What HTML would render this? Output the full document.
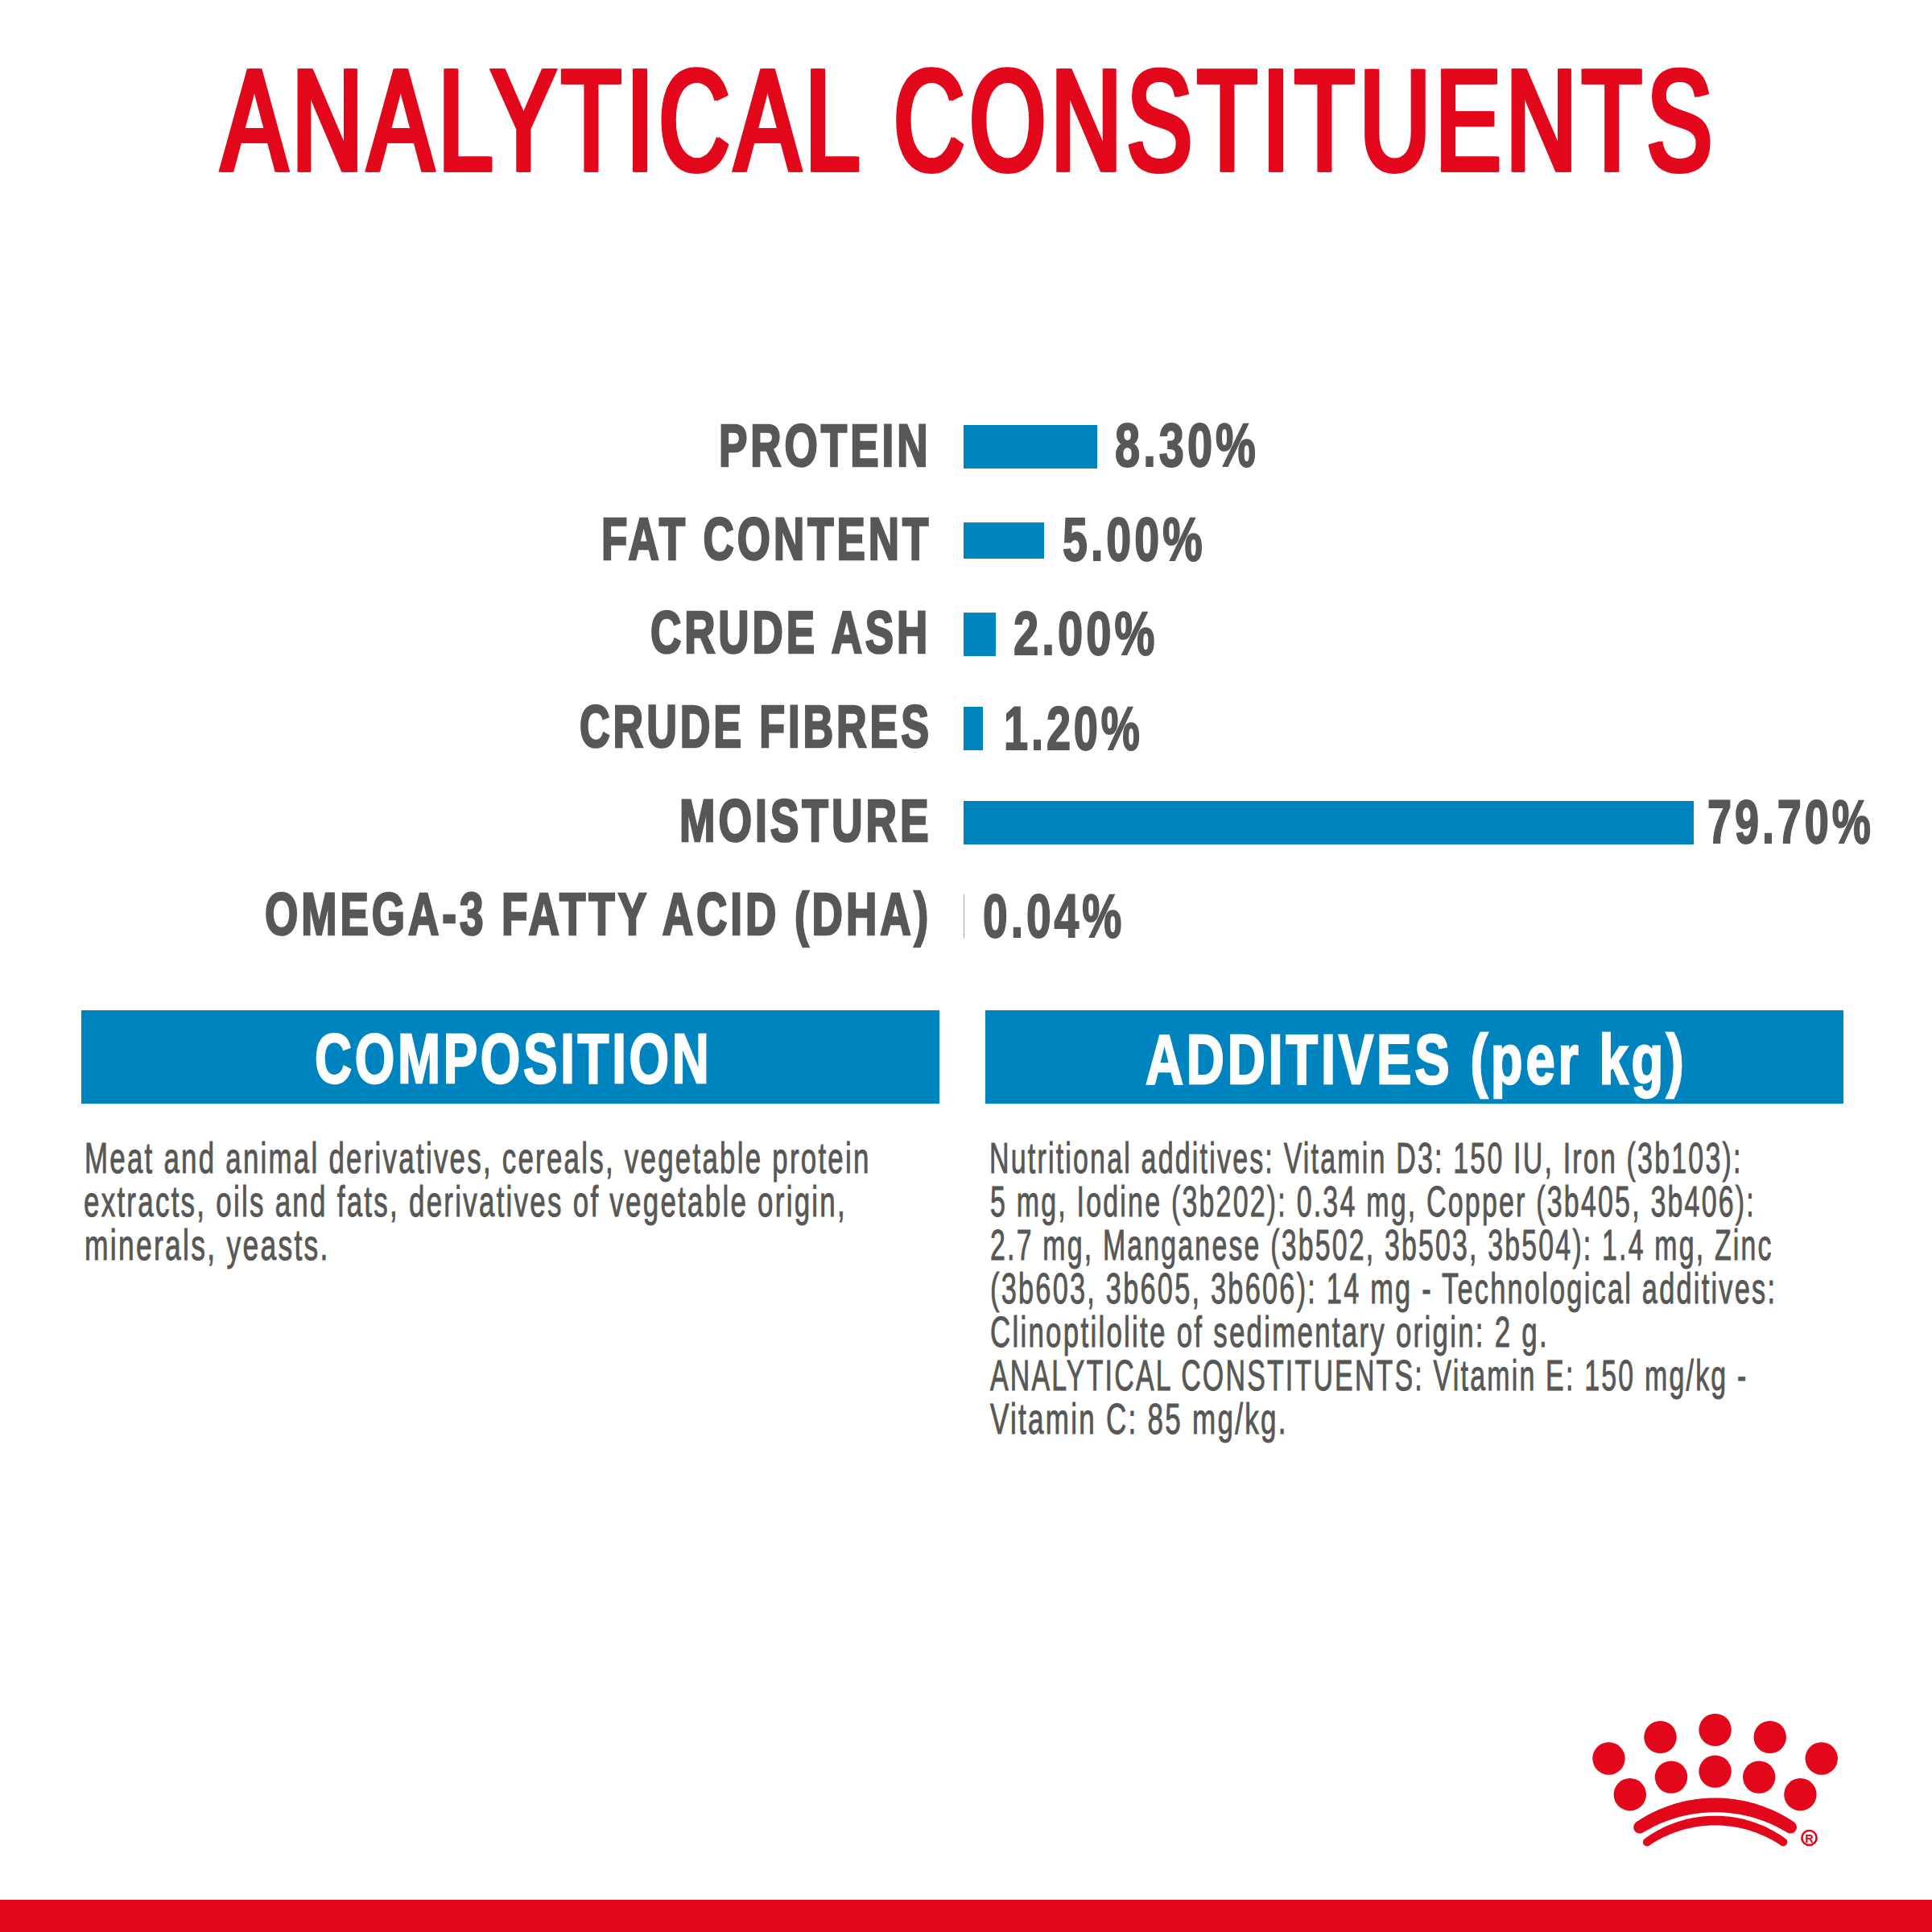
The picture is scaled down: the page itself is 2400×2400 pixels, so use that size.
<!DOCTYPE html>
<html><head><meta charset="utf-8"><style>
html,body{margin:0;padding:0;background:#fff;width:2400px;height:2400px;overflow:hidden}
.t{position:absolute;z-index:2;font-family:"Liberation Sans",sans-serif;line-height:1;white-space:pre;transform-origin:0 0}
.b{position:absolute;background:#0084bf}
</style></head><body>
<div class="t" style="left:274.03px;top:60.28px;font-weight:400;font-size:178.841px;color:#e2071a;transform:scaleX(0.67719);letter-spacing:10px;-webkit-text-stroke:5.6px #e2071a;">ANALYTICAL CONSTITUENTS</div>
<div class="t" style="left:276.63px;top:60.28px;font-weight:400;font-size:178.841px;color:#e2071a;transform:scaleX(0.67719);letter-spacing:10px;-webkit-text-stroke:5.6px #e2071a;">ANALYTICAL CONSTITUENTS</div>
<div class="t" style="left:893.44px;top:517.13px;font-weight:700;font-size:74.348px;color:#575756;transform:scaleX(0.71433);letter-spacing:5.5px;-webkit-text-stroke:2.7px #575756;">PROTEIN</div>
<div class="t" style="left:746.95px;top:633.23px;font-weight:700;font-size:74.348px;color:#575756;transform:scaleX(0.71325);letter-spacing:5.5px;-webkit-text-stroke:2.7px #575756;">FAT CONTENT</div>
<div class="t" style="left:808.27px;top:749.33px;font-weight:700;font-size:74.348px;color:#575756;transform:scaleX(0.71276);letter-spacing:5.5px;-webkit-text-stroke:2.7px #575756;">CRUDE ASH</div>
<div class="t" style="left:720.10px;top:866.13px;font-weight:700;font-size:74.348px;color:#575756;transform:scaleX(0.70244);letter-spacing:5.5px;-webkit-text-stroke:2.7px #575756;">CRUDE FIBRES</div>
<div class="t" style="left:843.53px;top:982.63px;font-weight:700;font-size:74.348px;color:#575756;transform:scaleX(0.71859);letter-spacing:5.5px;-webkit-text-stroke:2.7px #575756;">MOISTURE</div>
<div class="t" style="left:328.77px;top:1099.33px;font-weight:700;font-size:74.348px;color:#575756;transform:scaleX(0.71462);letter-spacing:5.5px;-webkit-text-stroke:2.7px #575756;">OMEGA-3 FATTY ACID (DHA)</div>
<div class="t" style="left:1384.57px;top:514.29px;font-weight:700;font-size:76.812px;color:#575756;transform:scaleX(0.72941);letter-spacing:5.5px;-webkit-text-stroke:2.0px #575756;">8.30%</div>
<div class="t" style="left:1319.68px;top:630.59px;font-weight:700;font-size:76.812px;color:#575756;transform:scaleX(0.72395);letter-spacing:5.5px;-webkit-text-stroke:2.0px #575756;">5.00%</div>
<div class="t" style="left:1258.54px;top:748.09px;font-weight:700;font-size:76.812px;color:#575756;transform:scaleX(0.73165);letter-spacing:5.5px;-webkit-text-stroke:2.0px #575756;">2.00%</div>
<div class="t" style="left:1247.18px;top:865.59px;font-weight:700;font-size:76.812px;color:#575756;transform:scaleX(0.70468);letter-spacing:5.5px;-webkit-text-stroke:2.0px #575756;">1.20%</div>
<div class="t" style="left:2121.39px;top:981.59px;font-weight:700;font-size:76.812px;color:#575756;transform:scaleX(0.70456);letter-spacing:5.5px;-webkit-text-stroke:2.0px #575756;">79.70%</div>
<div class="t" style="left:1220.56px;top:1098.89px;font-weight:700;font-size:76.812px;color:#575756;transform:scaleX(0.71857);letter-spacing:5.5px;-webkit-text-stroke:2.0px #575756;">0.04%</div>
<div class="t" style="left:391.43px;top:1272.31px;font-weight:700;font-size:86.377px;color:#fff;transform:scaleX(0.73744);letter-spacing:5px;-webkit-text-stroke:2.4px #fff;">COMPOSITION</div>
<div class="t" style="left:1423.25px;top:1272.81px;font-weight:700;font-size:86.377px;color:#fff;transform:scaleX(0.75454);letter-spacing:5px;-webkit-text-stroke:2.4px #fff;">ADDITIVES (per kg)</div>
<div class="t" style="left:104.80px;top:1411.99px;font-weight:400;font-size:53.623px;color:#575756;transform:scaleX(0.64950);letter-spacing:3.5px;-webkit-text-stroke:1.0px #575756;">Meat and animal derivatives, cereals, vegetable protein</div>
<div class="t" style="left:104.20px;top:1465.99px;font-weight:400;font-size:53.623px;color:#575756;transform:scaleX(0.65066);letter-spacing:3.5px;-webkit-text-stroke:1.0px #575756;">extracts, oils and fats, derivatives of vegetable origin,</div>
<div class="t" style="left:105.42px;top:1519.99px;font-weight:400;font-size:53.623px;color:#575756;transform:scaleX(0.65987);letter-spacing:3.5px;-webkit-text-stroke:1.0px #575756;">minerals, yeasts.</div>
<div class="t" style="left:1229.07px;top:1411.69px;font-weight:400;font-size:53.623px;color:#575756;transform:scaleX(0.63245);letter-spacing:3.5px;-webkit-text-stroke:1.0px #575756;">Nutritional additives: Vitamin D3: 150 IU, Iron (3b103):</div>
<div class="t" style="left:1229.73px;top:1465.69px;font-weight:400;font-size:53.623px;color:#575756;transform:scaleX(0.63282);letter-spacing:3.5px;-webkit-text-stroke:1.0px #575756;">5 mg, Iodine (3b202): 0.34 mg, Copper (3b405, 3b406):</div>
<div class="t" style="left:1229.74px;top:1519.69px;font-weight:400;font-size:53.623px;color:#575756;transform:scaleX(0.63101);letter-spacing:3.5px;-webkit-text-stroke:1.0px #575756;">2.7 mg, Manganese (3b502, 3b503, 3b504): 1.4 mg, Zinc</div>
<div class="t" style="left:1229.58px;top:1573.69px;font-weight:400;font-size:53.623px;color:#575756;transform:scaleX(0.64011);letter-spacing:3.5px;-webkit-text-stroke:1.0px #575756;">(3b603, 3b605, 3b606): 14 mg - Technological additives:</div>
<div class="t" style="left:1229.70px;top:1627.69px;font-weight:400;font-size:53.623px;color:#575756;transform:scaleX(0.64991);letter-spacing:3.5px;-webkit-text-stroke:1.0px #575756;">Clinoptilolite of sedimentary origin: 2 g.</div>
<div class="t" style="left:1229.50px;top:1681.69px;font-weight:400;font-size:53.623px;color:#575756;transform:scaleX(0.63221);letter-spacing:3.5px;-webkit-text-stroke:1.0px #575756;">ANALYTICAL CONSTITUENTS: Vitamin E: 150 mg/kg -</div>
<div class="t" style="left:1229.50px;top:1735.69px;font-weight:400;font-size:53.623px;color:#575756;transform:scaleX(0.65259);letter-spacing:3.5px;-webkit-text-stroke:1.0px #575756;">Vitamin C: 85 mg/kg.</div>
<div class="b" style="left:1197px;top:528px;width:166px;height:54px"></div>
<div class="b" style="left:1197px;top:649px;width:100px;height:45px"></div>
<div class="b" style="left:1197px;top:761px;width:40px;height:54px"></div>
<div class="b" style="left:1197px;top:878px;width:24px;height:54px"></div>
<div class="b" style="left:1197px;top:995px;width:907px;height:54px"></div>
<div class="b" style="left:1197px;top:1111px;width:1px;height:55px;opacity:.55"></div>
<div class="b" style="left:101px;top:1255px;width:1066px;height:116px"></div>
<div class="b" style="left:1224px;top:1255px;width:1066px;height:116px"></div>
<div style="position:absolute;left:0;top:2360px;width:2400px;height:40px;background:#e2071a"></div>
<svg width="2400" height="2400" style="position:absolute;left:0;top:0"><circle cx="1998.5" cy="2184.5" r="20.2" fill="#e2071a"/><circle cx="2262.7" cy="2184.5" r="20.2" fill="#e2071a"/><circle cx="2062.5" cy="2157.9" r="20.2" fill="#e2071a"/><circle cx="2198.7" cy="2157.9" r="20.2" fill="#e2071a"/><circle cx="2130.6" cy="2148.9" r="20.2" fill="#e2071a"/><circle cx="2024.8" cy="2229.2" r="20.2" fill="#e2071a"/><circle cx="2236.4" cy="2229.2" r="20.2" fill="#e2071a"/><circle cx="2076.0" cy="2207.6" r="20.2" fill="#e2071a"/><circle cx="2185.2" cy="2207.6" r="20.2" fill="#e2071a"/><circle cx="2130.6" cy="2200.6" r="20.2" fill="#e2071a"/><path d="M2032.81 2263.28 L2035.69 2261.38 L2038.60 2259.54 L2041.56 2257.76 L2044.54 2256.03 L2047.56 2254.37 L2050.62 2252.76 L2053.70 2251.22 L2056.82 2249.73 L2059.97 2248.31 L2063.15 2246.95 L2066.35 2245.65 L2069.58 2244.41 L2072.83 2243.24 L2076.11 2242.13 L2079.41 2241.09 L2082.72 2240.11 L2086.06 2239.20 L2089.42 2238.35 L2092.79 2237.57 L2096.18 2236.86 L2099.58 2236.21 L2103.00 2235.64 L2106.42 2235.12 L2109.86 2234.68 L2113.30 2234.30 L2116.75 2234.00 L2120.21 2233.76 L2123.67 2233.59 L2127.14 2233.48 L2130.60 2233.45 L2134.06 2233.48 L2137.53 2233.59 L2140.99 2233.76 L2144.45 2234.00 L2147.90 2234.30 L2151.34 2234.68 L2154.78 2235.12 L2158.20 2235.64 L2161.62 2236.21 L2165.02 2236.86 L2168.41 2237.57 L2171.78 2238.35 L2175.14 2239.20 L2178.48 2240.11 L2181.79 2241.09 L2185.09 2242.13 L2188.37 2243.24 L2191.62 2244.41 L2194.85 2245.65 L2198.05 2246.95 L2201.23 2248.31 L2204.38 2249.73 L2207.50 2251.22 L2210.58 2252.76 L2213.64 2254.37 L2216.66 2256.03 L2219.64 2257.76 L2222.60 2259.54 L2225.51 2261.38 L2228.39 2263.28 L2229.58 2264.22 L2230.56 2265.38 L2231.30 2266.70 L2231.77 2268.15 L2231.95 2269.66 L2231.83 2271.17 L2231.41 2272.63 L2230.72 2273.99 L2229.78 2275.18 L2228.62 2276.16 L2227.30 2276.90 L2225.85 2277.37 L2224.34 2277.55 L2222.83 2277.43 L2221.37 2277.01 L2220.01 2276.32 L2217.31 2274.71 L2214.58 2273.15 L2211.82 2271.64 L2209.03 2270.18 L2206.22 2268.77 L2203.39 2267.42 L2200.53 2266.12 L2197.65 2264.87 L2194.75 2263.67 L2191.83 2262.53 L2188.89 2261.44 L2185.93 2260.40 L2182.95 2259.42 L2179.96 2258.49 L2176.95 2257.62 L2173.92 2256.80 L2170.89 2256.04 L2167.84 2255.33 L2164.78 2254.68 L2161.70 2254.09 L2158.62 2253.55 L2155.53 2253.07 L2152.43 2252.64 L2149.32 2252.27 L2146.21 2251.96 L2143.10 2251.71 L2139.98 2251.51 L2136.85 2251.36 L2133.73 2251.28 L2130.60 2251.25 L2127.47 2251.28 L2124.35 2251.36 L2121.22 2251.51 L2118.10 2251.71 L2114.99 2251.96 L2111.88 2252.27 L2108.77 2252.64 L2105.67 2253.07 L2102.58 2253.55 L2099.50 2254.09 L2096.42 2254.68 L2093.36 2255.33 L2090.31 2256.04 L2087.28 2256.80 L2084.25 2257.62 L2081.24 2258.49 L2078.25 2259.42 L2075.27 2260.40 L2072.31 2261.44 L2069.37 2262.53 L2066.45 2263.67 L2063.55 2264.87 L2060.67 2266.12 L2057.81 2267.42 L2054.98 2268.77 L2052.17 2270.18 L2049.38 2271.64 L2046.62 2273.15 L2043.89 2274.71 L2041.19 2276.32 L2039.83 2277.01 L2038.37 2277.43 L2036.86 2277.55 L2035.35 2277.37 L2033.90 2276.90 L2032.58 2276.16 L2031.42 2275.18 L2030.48 2273.99 L2029.79 2272.63 L2029.37 2271.17 L2029.25 2269.66 L2029.43 2268.15 L2029.90 2266.70 L2030.64 2265.38 L2031.62 2264.22Z" fill="#e2071a"/><path d="M2043.07 2284.13 L2045.60 2282.32 L2048.17 2280.57 L2050.78 2278.87 L2053.42 2277.23 L2056.10 2275.64 L2058.81 2274.11 L2061.55 2272.64 L2064.33 2271.22 L2067.13 2269.86 L2069.97 2268.56 L2072.83 2267.32 L2075.71 2266.14 L2078.63 2265.02 L2081.56 2263.96 L2084.52 2262.96 L2087.50 2262.03 L2090.49 2261.15 L2093.51 2260.34 L2096.54 2259.60 L2099.59 2258.92 L2102.65 2258.30 L2105.72 2257.74 L2108.81 2257.25 L2111.90 2256.83 L2115.01 2256.47 L2118.12 2256.17 L2121.23 2255.94 L2124.35 2255.78 L2127.48 2255.68 L2130.60 2255.65 L2133.72 2255.68 L2136.85 2255.78 L2139.97 2255.94 L2143.08 2256.17 L2146.19 2256.47 L2149.30 2256.83 L2152.39 2257.25 L2155.48 2257.74 L2158.55 2258.30 L2161.61 2258.92 L2164.66 2259.60 L2167.69 2260.34 L2170.71 2261.15 L2173.70 2262.03 L2176.68 2262.96 L2179.64 2263.96 L2182.57 2265.02 L2185.49 2266.14 L2188.37 2267.32 L2191.23 2268.56 L2194.07 2269.86 L2196.87 2271.22 L2199.65 2272.64 L2202.39 2274.11 L2205.10 2275.64 L2207.78 2277.23 L2210.42 2278.87 L2213.03 2280.57 L2215.60 2282.32 L2218.13 2284.13 L2218.89 2284.78 L2219.51 2285.57 L2219.96 2286.46 L2220.22 2287.42 L2220.30 2288.42 L2220.18 2289.41 L2219.86 2290.36 L2219.37 2291.23 L2218.72 2291.99 L2217.93 2292.61 L2217.04 2293.06 L2216.08 2293.32 L2215.08 2293.40 L2214.09 2293.28 L2213.14 2292.96 L2212.27 2292.47 L2209.85 2290.87 L2207.40 2289.32 L2204.92 2287.82 L2202.41 2286.37 L2199.88 2284.97 L2197.32 2283.62 L2194.73 2282.32 L2192.12 2281.07 L2189.49 2279.88 L2186.83 2278.74 L2184.15 2277.65 L2181.45 2276.61 L2178.74 2275.63 L2176.00 2274.70 L2173.25 2273.83 L2170.48 2273.01 L2167.69 2272.25 L2164.89 2271.54 L2162.08 2270.89 L2159.26 2270.30 L2156.42 2269.76 L2153.58 2269.27 L2150.72 2268.85 L2147.86 2268.48 L2145.00 2268.16 L2142.12 2267.91 L2139.25 2267.71 L2136.37 2267.56 L2133.48 2267.48 L2130.60 2267.45 L2127.72 2267.48 L2124.83 2267.56 L2121.95 2267.71 L2119.08 2267.91 L2116.20 2268.16 L2113.34 2268.48 L2110.48 2268.85 L2107.62 2269.27 L2104.78 2269.76 L2101.94 2270.30 L2099.12 2270.89 L2096.31 2271.54 L2093.51 2272.25 L2090.72 2273.01 L2087.95 2273.83 L2085.20 2274.70 L2082.46 2275.63 L2079.75 2276.61 L2077.05 2277.65 L2074.37 2278.74 L2071.71 2279.88 L2069.08 2281.07 L2066.47 2282.32 L2063.88 2283.62 L2061.32 2284.97 L2058.79 2286.37 L2056.28 2287.82 L2053.80 2289.32 L2051.35 2290.87 L2048.93 2292.47 L2048.06 2292.96 L2047.11 2293.28 L2046.12 2293.40 L2045.12 2293.32 L2044.16 2293.06 L2043.27 2292.61 L2042.48 2291.99 L2041.83 2291.23 L2041.34 2290.36 L2041.02 2289.41 L2040.90 2288.42 L2040.98 2287.42 L2041.24 2286.46 L2041.69 2285.57 L2042.31 2284.78Z" fill="#e2071a"/><circle cx="2247.5" cy="2283.0" r="9.05" stroke="#e2071a" stroke-width="2.6" fill="none"/><text x="2247.6" y="2288.7" font-family="Liberation Sans" font-weight="700" font-size="14.5" fill="#e2071a" text-anchor="middle">R</text></svg>
</body></html>
